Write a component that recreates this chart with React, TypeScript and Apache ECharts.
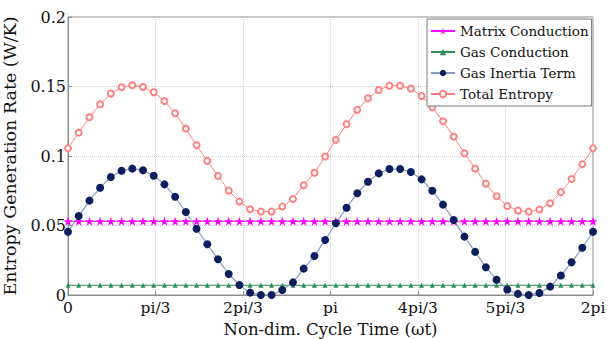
import React, { useEffect, useRef } from "react";
import * as echarts from "echarts";

const X_TICK_LABELS = ["0", "pi/3", "2pi/3", "pi", "4pi/3", "5pi/3", "2pi"];
const Y_TICKS = [0, 0.05, 0.1, 0.15, 0.2];

const MATRIX_CONDUCTION = [
  0.053, 0.053, 0.053, 0.053, 0.053, 0.053, 0.053, 0.053, 0.053, 0.053,
  0.053, 0.053, 0.053, 0.053, 0.053, 0.053, 0.053, 0.053, 0.053, 0.053,
  0.053, 0.053, 0.053, 0.053, 0.053, 0.053, 0.053, 0.053, 0.053, 0.053,
  0.053, 0.053, 0.053, 0.053, 0.053, 0.053, 0.053, 0.053, 0.053, 0.053,
  0.053, 0.053, 0.053, 0.053, 0.053, 0.053, 0.053, 0.053, 0.053, 0.053,
];
const GAS_CONDUCTION = [
  0.007, 0.007, 0.007, 0.007, 0.007, 0.007, 0.007, 0.007, 0.007, 0.007,
  0.007, 0.007, 0.007, 0.007, 0.007, 0.007, 0.007, 0.007, 0.007, 0.007,
  0.007, 0.007, 0.007, 0.007, 0.007, 0.007, 0.007, 0.007, 0.007, 0.007,
  0.007, 0.007, 0.007, 0.007, 0.007, 0.007, 0.007, 0.007, 0.007, 0.007,
  0.007, 0.007, 0.007, 0.007, 0.007, 0.007, 0.007, 0.007, 0.007, 0.007,
];
const GAS_INERTIA = [
  0.0455, 0.0568, 0.0679, 0.0772, 0.0849, 0.0894, 0.0909, 0.0897, 0.0858, 0.0796,
  0.0707, 0.0597, 0.0477, 0.0365, 0.0257, 0.0151, 0.0072, 0.0017, 0.0, 0.0,
  0.0036, 0.0091, 0.019, 0.028, 0.0396, 0.0516, 0.0628, 0.0732, 0.0815, 0.0875,
  0.0906, 0.0906, 0.0885, 0.0832, 0.075, 0.065, 0.054, 0.042, 0.031, 0.02,
  0.011, 0.004, 0.0008, 0.0, 0.0015, 0.006, 0.014, 0.0235, 0.034, 0.0455,
];
const TOTAL_ENTROPY = [
  0.1055, 0.1168, 0.1279, 0.1372, 0.1449, 0.1494, 0.1509, 0.1497, 0.1458, 0.1396,
  0.1307, 0.1197, 0.1077, 0.0965, 0.0857, 0.0751, 0.0672, 0.0617, 0.06, 0.06,
  0.0636, 0.0691, 0.079, 0.088, 0.0996, 0.1116, 0.1228, 0.1332, 0.1415, 0.1475,
  0.1506, 0.1506, 0.1485, 0.1432, 0.135, 0.125, 0.114, 0.102, 0.091, 0.08,
  0.071, 0.064, 0.0608, 0.06, 0.0615, 0.066, 0.074, 0.0835, 0.094, 0.1055,
];
const SAMPLES = GAS_INERTIA.map((_, i) => String(i));

const STAR =
  "path://M0,-10L2.35,-3.24L9.51,-3.09L3.8,1.24L5.88,8.09L0,4L-5.88,8.09L-3.8,1.24L-9.51,-3.09L-2.35,-3.24Z";
const FONT = "DejaVu Serif";

export default function App() {
  const ref = useRef<HTMLDivElement>(null);
  useEffect(() => {
    document.body.style.margin = "0";
    if (!ref.current) return;
    const chart = echarts.init(ref.current, null, { renderer: "svg" });
    chart.setOption({
      animation: false,
      backgroundColor: "#ffffff",
      textStyle: { fontFamily: FONT },
      grid: {
        left: 68,
        right: 15,
        top: 17,
        bottom: 44,
        show: true,
        borderColor: "#8c8c8c",
        borderWidth: 1,
        outerBoundsMode: "none",
        containLabel: false,
      },
      legend: {
        orient: "vertical",
        left: 427,
        top: 19,
        backgroundColor: "#ffffff",
        borderColor: "#7a7a7a",
        borderWidth: 1,
        padding: [5, 3, 5, 3],
        itemGap: 7,
        itemWidth: 24,
        itemHeight: 8,
        textStyle: { fontFamily: FONT, fontSize: 13.5, color: "#111" },
        data: ["Matrix Conduction", "Gas Conduction", "Gas Inertia Term", "Total Entropy"],
      },
      xAxis: [
        {
          type: "value",
          min: 0,
          max: 6,
          interval: 1,
          name: "Non-dim. Cycle Time (\u03c9t)",
          nameLocation: "middle",
          nameGap: 22,
          nameTextStyle: { fontFamily: FONT, fontSize: 16.5, color: "#111" },
          axisLine: { show: true, lineStyle: { color: "#8c8c8c" } },
          axisTick: { show: true, inside: true, length: 4, lineStyle: { color: "#8c8c8c" } },
          axisLabel: {
            fontFamily: FONT,
            fontSize: 15.5,
            color: "#111",
            margin: 5,
            formatter: (v: number) => X_TICK_LABELS[Math.round(v)] ?? "",
          },
          splitLine: { show: true, lineStyle: { color: "#cfcfcf", type: "dotted" } },
        },
        {
          type: "category",
          data: SAMPLES,
          boundaryGap: false,
          show: false,
        },
      ],
      yAxis: {
        type: "value",
        min: Y_TICKS[0],
        max: Y_TICKS[Y_TICKS.length - 1],
        interval: 0.05,
        name: "Entropy Generation Rate (W/K)",
        nameLocation: "middle",
        nameGap: 39,
        nameTextStyle: { fontFamily: FONT, fontSize: 17.5, color: "#111" },
        axisLine: { show: true, lineStyle: { color: "#8c8c8c" } },
        axisTick: { show: true, inside: true, length: 4, lineStyle: { color: "#8c8c8c" } },
        axisLabel: {
          fontFamily: FONT,
          fontSize: 16,
          color: "#111",
          margin: 2,
          formatter: (v: number) => String(Number(v.toFixed(2))),
        },
        splitLine: { show: true, lineStyle: { color: "#cfcfcf", type: "dotted" } },
      },
      series: [
        {
          name: "Matrix Conduction",
          type: "line",
          xAxisIndex: 1,
          data: MATRIX_CONDUCTION,
          symbol: STAR,
          symbolSize: 9,
          showAllSymbol: true,
          lineStyle: { color: "#ff00ff", width: 1 },
          itemStyle: { color: "#ff00ff" },
        },
        {
          name: "Gas Conduction",
          type: "line",
          xAxisIndex: 1,
          data: GAS_CONDUCTION,
          symbol: "triangle",
          symbolSize: 5,
          showAllSymbol: true,
          lineStyle: { color: "#2e8b57", width: 1 },
          itemStyle: { color: "#2e8b57" },
        },
        {
          name: "Gas Inertia Term",
          type: "line",
          xAxisIndex: 1,
          data: GAS_INERTIA,
          symbol: "circle",
          symbolSize: 8,
          showAllSymbol: true,
          lineStyle: { color: "#8a9cc4", width: 1.2 },
          itemStyle: { color: "#0b1f5e" },
        },
        {
          name: "Total Entropy",
          type: "line",
          xAxisIndex: 1,
          data: TOTAL_ENTROPY,
          symbol: "emptyCircle",
          symbolSize: 6,
          showAllSymbol: true,
          lineStyle: { color: "#ff8080", width: 1 },
          itemStyle: { color: "#ff8080", borderWidth: 1 },
        },
      ],
    });
    return () => chart.dispose();
  }, []);
  return <div ref={ref} style={{ width: 608, height: 339 }} />;
}
